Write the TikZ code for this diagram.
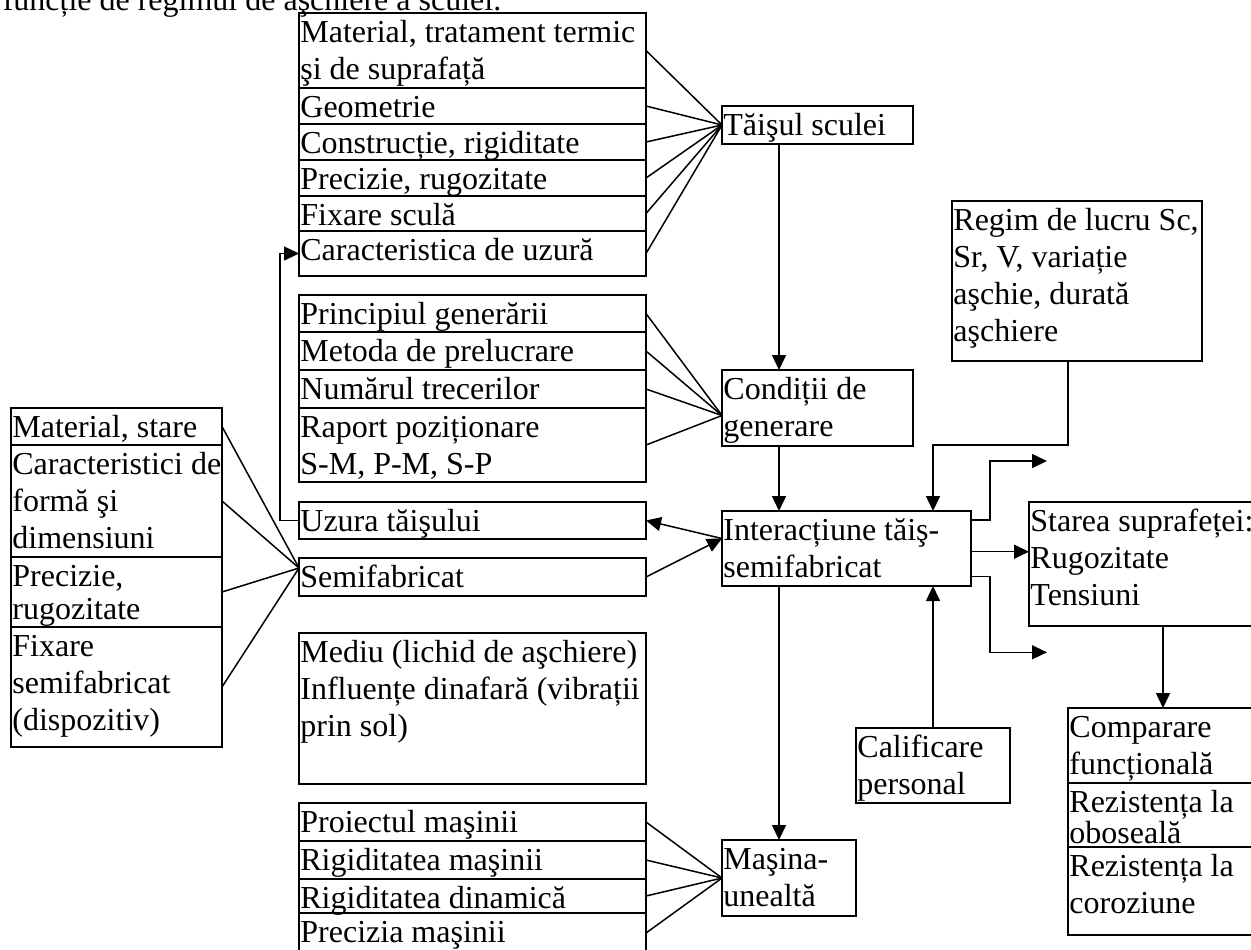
\documentclass[tikz,border=0pt]{standalone}
\usepackage{fontspec}
\setmainfont{Liberation Serif}
\usetikzlibrary{arrows.meta}
\newcommand\mystrut{\rule[-4pt]{0pt}{18.5pt}}
\newcommand\oneline[1]{\hspace*{0.7pt}\mbox{\mystrut#1}}
\newcommand\cellbox[6]{%
  \pgfmathsetmacro\cellw{(#4-#2)*0.5}%
  \pgfmathsetmacro\cellh{(#5-#3)*0.5}%
  \node[cell] (#1) at (#2,#3) {\parbox[c][\cellh pt][t]{\cellw pt}{\raggedright #6}};}
\begin{document}
\begin{tikzpicture}[x=0.5pt,y=-0.5pt,line width=0.75pt,
  cell/.style={draw, inner sep=0pt, outer sep=0pt, anchor=north west,
    font=\fontsize{16pt}{18.5pt}\selectfont},
  arr/.style={-{Triangle[length=7.5pt,width=7pt]}}]
\useasboundingbox (0,0) rectangle (1251,949);
\clip (0,0) rectangle (1251,949);
\node[anchor=base west, inner sep=0pt, font=\fontsize{16pt}{18.5pt}\selectfont] (title) at (2,10) {funcție de regimul de aşchiere a sculei.};
% tool group
\cellbox{t1}{299}{13}{646}{88}{\oneline{Material, tratament termic}\\\oneline{şi de suprafață}}
\cellbox{t2}{299}{88}{646}{124}{\oneline{Geometrie}}
\cellbox{t3}{299}{124}{646}{160}{\oneline{Construcție, rigiditate}}
\cellbox{t4}{299}{160}{646}{196}{\oneline{Precizie, rugozitate}}
\cellbox{t5}{299}{196}{646}{231}{\oneline{Fixare sculă}}
\cellbox{t6}{299}{231}{646}{276}{\oneline{Caracteristica de uzură}}
% generation group
\cellbox{g1}{299}{295}{646}{332}{\oneline{Principiul generării}}
\cellbox{g2}{299}{332}{646}{370}{\oneline{Metoda de prelucrare}}
\cellbox{g3}{299}{370}{646}{408}{\oneline{Numărul trecerilor}}
\cellbox{g4}{299}{408}{646}{482}{\oneline{Raport poziționare}\\\oneline{S-M, P-M, S-P}}
\cellbox{uzura}{299}{502}{646}{539}{\oneline{Uzura tăişului}}
\cellbox{semif}{299}{558}{646}{596}{\oneline{Semifabricat}}
\cellbox{mediu}{299}{633}{646}{784}{\oneline{Mediu (lichid de aşchiere)}\\\oneline{Influențe dinafară (vibrații}\\\oneline{prin sol)}}
% machine group
\cellbox{m1}{299}{803}{646}{841}{\oneline{Proiectul maşinii}}
\cellbox{m2}{299}{841}{646}{879}{\oneline{Rigiditatea maşinii}}
\cellbox{m3}{299}{879}{646}{913}{\oneline{Rigiditatea dinamică}}
\cellbox{m4}{299}{913}{646}{953}{\oneline{Precizia maşinii}}
% left group
\cellbox{l1}{11}{408}{222}{445}{\oneline{Material, stare}}
\cellbox{l2}{11}{445}{222}{557}{\oneline{Caracteristici de}\\\oneline{formă şi}\\\oneline{dimensiuni}}
\cellbox{l3}{11}{557}{222}{627}{\oneline{Precizie,}\\[-2pt]\oneline{rugozitate}}
\cellbox{l4}{11}{627}{222}{747}{\oneline{Fixare}\\\oneline{semifabricat}\\\oneline{(dispozitiv)}}
% centre column
\cellbox{tais}{722}{106}{913}{144}{\oneline{Tăişul sculei}}
\cellbox{cond}{722}{370}{913}{446}{\oneline{Condiții de}\\\oneline{generare}}
\cellbox{inter}{722}{511}{971}{586}{\oneline{Interacțiune tăiş-}\\\oneline{semifabricat}}
\cellbox{masina}{722}{840}{856}{916}{\oneline{Maşina-}\\\oneline{unealtă}}
\cellbox{regim}{952}{201}{1202}{361}{\oneline{Regim de lucru Sc,}\\\oneline{Sr, V, variație}\\\oneline{aşchie, durată}\\\oneline{aşchiere}}
\cellbox{calif}{856}{728}{1010}{803}{\oneline{Calificare}\\\oneline{personal}}
\cellbox{starea}{1029}{502}{1256}{626}{\oneline{Starea suprafeței:}\\\oneline{Rugozitate}\\\oneline{Tensiuni}}
\cellbox{c1}{1068}{708}{1256}{783}{\oneline{Comparare}\\\oneline{funcțională}}
\cellbox{c2}{1068}{783}{1256}{847}{\oneline{Rezistența la}\\[-3pt]\oneline{oboseală}}
\cellbox{c3}{1068}{847}{1256}{935}{\oneline{Rezistența la}\\\oneline{coroziune}}
% fans
\foreach \r in {t1,t2,t3,t4,t5,t6} \draw (\r.east) -- (tais.west);
\foreach \r in {g1,g2,g3,g4} \draw (\r.east) -- ([yshift=-3.75pt]cond.west);
\foreach \r in {l1,l2,l3,l4} \draw (\r.east) -- ([yshift=4.5pt]semif.west);
\foreach \r in {m1,m2,m3,m4} \draw (\r.east) -- (masina.west);
% helper coordinates
\coordinate (vx) at (779,0);
\coordinate (rx) at (1068,0);
\coordinate (rq) at (933,445);
\coordinate (sx) at (1163,0);
\coordinate (ij) at ([yshift=5pt]inter.west);
\coordinate (iu) at ([yshift=14.25pt]inter.east);
\coordinate (im) at ([yshift=-1.6pt]inter.east);
\coordinate (il) at ([yshift=-14pt]inter.east);
\coordinate (oa) at (1047,461);
\coordinate (ob) at (1047,652.3);
% connectors
\draw[arr] (tais.south -| vx) -- (cond.north -| vx);
\draw[arr] (cond.south -| vx) -- (inter.north -| vx);
\draw[arr] (inter.south -| vx) -- (masina.north -| vx);
\draw[arr] (ij) -- (uzura.east);
\draw[arr] (semif.east) -- (ij);
\draw[arr] (uzura.west) -- ++(-19,0) |- (t6.west);
\draw[arr] (regim.south -| rx) |- (rq) -- (rq |- inter.north);
\draw[arr] (iu) -| (990,461) -- (oa);
\draw[arr] (im) -- (im -| starea.west);
\draw[arr] (il) -| (990,652.3) -- (ob);
\draw[arr] (calif.north) -- (calif.north |- inter.south);
\draw[arr] (starea.south -| sx) -- (c1.north -| sx);
\end{tikzpicture}
\end{document}
